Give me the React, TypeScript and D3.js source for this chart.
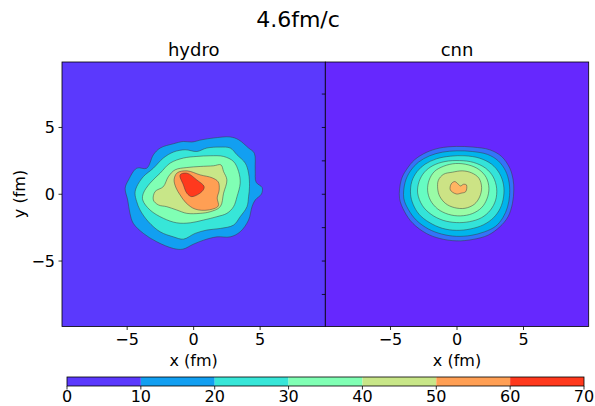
import React from "react";
import * as d3 from "d3";

type Pt = [number, number];

const title = "4.6fm/c";
const xTicks = [-5, 0, 5];
const yTicks = [-5, 0, 5];
const cnnYTicks = [-7.5, -5, -2.5, 0, 2.5, 5, 7.5];
const extent: [number, number] = [-9.9, 9.9];

const hydroLevels = [0, 10, 20, 30, 40, 50, 60, 70];
const cnnLevels = [0, 5, 10, 15, 20, 25, 30, 35, 40, 45, 50];

// contour rings in fm (outer -> inner)
const hydro10: Pt[] = [[-5.15,0.45],[-4.9,1.07],[-4.28,1.95],[-3.53,1.95],[-3.03,2.95],[-2.52,3.46],[-1.52,3.78],[-0.77,3.95],[-0.14,3.91],[0.62,4.08],[1.49,4.21],[2.75,4.29],[3.38,4.08],[4.13,3.46],[4.56,3.08],[4.63,1.83],[4.7,0.9],[5.15,0.5],[5.1,0.02],[4.63,-0.43],[4.39,-0.93],[4.13,-1.93],[3.5,-2.81],[2.75,-3.19],[1.75,-3.19],[0.74,-3.44],[-0.02,-3.74],[-0.81,-4.11],[-1.52,-4.06],[-2.77,-3.56],[-3.78,-2.93],[-4.54,-2.18],[-4.79,-1.43],[-4.96,-0.43]];
const hydro20: Pt[] = [[-4.41,0.08],[-4.28,0.57],[-3.78,1.32],[-3.03,1.95],[-2.28,2.71],[-1.52,3.16],[-0.64,3.33],[0.24,3.2],[0.99,3.46],[2.0,3.53],[2.75,3.46],[3.26,2.95],[3.88,2.33],[4.13,1.58],[4.2,0.57],[4.13,-0.18],[4.01,-0.93],[3.5,-1.68],[3.0,-2.31],[2.0,-2.56],[0.99,-2.68],[0.11,-2.93],[-0.77,-3.36],[-1.52,-3.19],[-2.52,-2.81],[-3.4,-2.06],[-4.03,-1.18],[-4.28,-0.56]];
const hydro30: Pt[] = [[-3.83,-0.43],[-3.78,0.08],[-3.28,0.83],[-2.52,1.58],[-1.77,2.33],[-0.77,2.71],[0.24,2.83],[1.24,2.88],[2.25,2.83],[3.0,2.45],[3.38,1.7],[3.5,0.83],[3.26,-0.18],[3.0,-0.93],[2.5,-1.43],[1.75,-1.68],[0.74,-1.93],[-0.26,-2.14],[-1.27,-2.14],[-2.28,-1.8],[-3.28,-1.18]];
const hydro40: Pt[] = [[-3.03,-0.43],[-2.9,0.2],[-2.28,0.57],[-1.9,1.32],[-1.39,1.83],[-0.51,2.0],[0.49,2.08],[1.49,2.13],[2.05,2.2],[2.25,1.7],[2.5,1.07],[2.25,0.08],[2.0,-0.93],[1.24,-1.31],[0.49,-1.43],[-0.51,-1.43],[-1.27,-1.18],[-2.02,-0.93],[-2.65,-0.8]];
const hydro50: Pt[] = [[-1.47,1.08],[-1.24,1.6],[-0.49,1.75],[0.49,1.45],[1.39,1.23],[1.85,0.92],[1.92,0.32],[1.77,-0.28],[1.85,-0.88],[1.09,-1.18],[0.11,-1.11],[-0.57,-0.65],[-1.02,-0.05],[-1.32,0.47]];
const hydro60: Pt[] = [[-1.02,1.45],[-0.51,1.58],[0.24,1.07],[0.79,0.57],[0.62,0.2],[-0.14,-0.18],[-0.51,0.08],[-0.77,0.7]];

const cnn5: Pt[] = [[-4.32,-0.3],[-4.19,1.08],[-3.81,1.83],[-3.19,2.58],[-2.31,3.13],[-1.3,3.46],[-0.05,3.58],[1.21,3.53],[2.46,3.33],[3.35,2.83],[3.97,1.95],[4.22,1.08],[4.27,0.32],[4.17,-0.68],[3.84,-1.68],[3.22,-2.44],[2.34,-3.06],[1.21,-3.38],[-0.05,-3.49],[-1.3,-3.31],[-2.31,-2.93],[-3.32,-2.18],[-3.94,-1.31]];
const cnn10: Pt[] = [[-4.0,-0.3],[-3.9,0.9],[-3.5,1.75],[-2.9,2.4],[-2.05,2.88],[-1.1,3.15],[0.0,3.25],[1.15,3.2],[2.3,2.98],[3.1,2.5],[3.65,1.75],[3.92,0.85],[3.95,-0.1],[3.8,-0.95],[3.45,-1.75],[2.9,-2.4],[2.05,-2.82],[1.05,-3.08],[-0.05,-3.15],[-1.15,-2.98],[-2.15,-2.6],[-3.05,-1.95],[-3.65,-1.15]];
const cnn15: Pt[] = [[-3.49,0.0],[-3.4,0.95],[-3.0,1.7],[-2.4,2.25],[-1.55,2.65],[-0.5,2.85],[0.6,2.88],[1.7,2.7],[2.6,2.25],[3.2,1.55],[3.5,0.7],[3.5,-0.2],[3.25,-1.05],[2.75,-1.75],[2.0,-2.28],[1.0,-2.6],[-0.05,-2.7],[-1.1,-2.55],[-2.1,-2.1],[-2.85,-1.5],[-3.3,-0.75]];
const cnn20: Pt[] = [[-2.96,0.1],[-2.85,0.95],[-2.45,1.65],[-1.8,2.15],[-0.9,2.45],[0.2,2.52],[1.25,2.38],[2.15,1.95],[2.72,1.3],[2.98,0.45],[2.9,-0.45],[2.5,-1.2],[1.85,-1.75],[0.95,-2.05],[-0.05,-2.12],[-1.05,-1.95],[-1.95,-1.5],[-2.6,-0.85]];
const cnn25: Pt[] = [[-2.21,0.3],[-2.1,1.05],[-1.7,1.7],[-1.0,2.1],[-0.1,2.3],[0.85,2.2],[1.65,1.85],[2.2,1.25],[2.4,0.45],[2.25,-0.35],[1.85,-1.0],[1.15,-1.45],[0.25,-1.62],[-0.65,-1.5],[-1.45,-1.1],[-2.0,-0.45]];
const cnn30: Pt[] = [[-1.45,0.4],[-1.4,1.05],[-1.0,1.5],[-0.35,1.65],[0.4,1.75],[1.1,1.6],[1.65,1.2],[1.85,0.5],[1.7,-0.2],[1.3,-0.75],[0.6,-1.05],[-0.2,-1.0],[-0.85,-0.7],[-1.3,-0.15]];
const cnn35: Pt[] = [[-0.44,0.77],[-0.17,0.95],[0.1,0.75],[0.26,0.62],[0.5,0.75],[0.71,0.7],[0.66,0.2],[0.3,0.08],[-0.05,0.02],[-0.5,0.32]];

const hydroRings = [hydro10, hydro20, hydro30, hydro40, hydro50, hydro60];
const cnnRings = [cnn5, cnn10, cnn15, cnn20, cnn25, cnn30, cnn35];

// matplotlib "rainbow"
const rainbow = (t: number) => {
  const c = (v: number) => Math.round(255 * Math.max(0, Math.min(1, v)));
  return d3.rgb(c(Math.abs(2 * t - 0.5)), c(Math.sin(Math.PI * t)), c(Math.cos((Math.PI * t) / 2))).formatHex();
};
const bandColors = (levels: number[]) => {
  const lo = levels[0], hi = levels[levels.length - 1];
  return d3.pairs(levels).map(([a, b]) => rainbow(((a + b) / 2 - lo) / (hi - lo)));
};

const FONT = "DejaVu Sans, sans-serif";
const fmt = (v: number) => (v < 0 ? "\u2212" : "") + Math.abs(v);

const top = 62, bottom = 326.5;

function Panel({ x0, x1, rings, levels, label, yLabels, yTickVals }: any) {
  const x = d3.scaleLinear().domain(extent).range([x0, x1]);
  const y = d3.scaleLinear().domain(extent).range([bottom, top]);
  const colors = bandColors(levels);
  const line = d3.line<Pt>().x((d) => x(d[0])).y((d) => y(d[1])).curve(d3.curveCatmullRomClosed.alpha(0.5));
  const cx = (x0 + x1) / 2;
  return (
    <g>
      <rect x={x0} y={top} width={x1 - x0} height={bottom - top} fill={colors[0]} />
      {rings.map((r: Pt[], i: number) => (
        <path key={i} d={line(r) || ""} fill={colors[i + 1]} stroke="#3a3a3a" strokeOpacity={0.7} strokeWidth={0.7} />
      ))}
      <rect x={x0} y={top} width={x1 - x0} height={bottom - top} fill="none" stroke="#000" strokeWidth={0.8} />
      {xTicks.map((t) => (
        <g key={t}>
          <line x1={x(t)} x2={x(t)} y1={bottom} y2={bottom + 3.5} stroke="#000" strokeWidth={0.8} />
          <text x={x(t)} y={345} textAnchor="middle" fontSize={16} fontFamily={FONT}>{fmt(t)}</text>
        </g>
      ))}
      {yTickVals.map((t: number) => (
        <g key={t}>
          <line x1={x0 - 3.5} x2={x0} y1={y(t)} y2={y(t)} stroke="#000" strokeWidth={0.8} />
          {yLabels && (
            <text x={x0 - 7} y={y(t)} dy="0.36em" textAnchor="end" fontSize={16} fontFamily={FONT}>{fmt(t)}</text>
          )}
        </g>
      ))}
      <text x={cx} y={56} textAnchor="middle" fontSize={18} fontFamily={FONT}>{label}</text>
      <text x={cx} y={366} textAnchor="middle" fontSize={16} fontFamily={FONT}>x (fm)</text>
    </g>
  );
}

function Colorbar() {
  const cb = d3.scaleLinear().domain([hydroLevels[0], hydroLevels[hydroLevels.length - 1]]).range([67, 584]);
  const colors = bandColors(hydroLevels);
  const y0 = 377, h = 9;
  return (
    <g>
      {d3.pairs(hydroLevels).map(([a, b], i) => (
        <rect key={i} x={cb(a)} y={y0} width={cb(b) - cb(a)} height={h} fill={colors[i]} />
      ))}
      <rect x={cb(0)} y={y0} width={cb(70) - cb(0)} height={h} fill="none" stroke="#000" strokeWidth={0.8} />
      {hydroLevels.map((t) => (
        <g key={t}>
          <line x1={cb(t)} x2={cb(t)} y1={y0 + h} y2={y0 + h + 3.5} stroke="#000" strokeWidth={0.8} />
          <text x={cb(t)} y={402} textAnchor="middle" fontSize={16} fontFamily={FONT}>{t}</text>
        </g>
      ))}
    </g>
  );
}

export default function App() {
  return (
    <svg width={595} height={406} style={{ position: "absolute", left: 0, top: 0, background: "#fff" }}>
      <text x={298} y={27} textAnchor="middle" fontSize={22} fontFamily={FONT}>{title}</text>
      <Panel x0={62} x1={325.3} rings={hydroRings} levels={hydroLevels} label="hydro" yLabels={true} yTickVals={yTicks} />
      <Panel x0={325.3} x1={588.7} rings={cnnRings} levels={cnnLevels} label="cnn" yLabels={false} yTickVals={cnnYTicks} />
      <text transform="translate(25,194) rotate(-90)" textAnchor="middle" fontSize={16} fontFamily={FONT}>y (fm)</text>
      <Colorbar />
    </svg>
  );
}
